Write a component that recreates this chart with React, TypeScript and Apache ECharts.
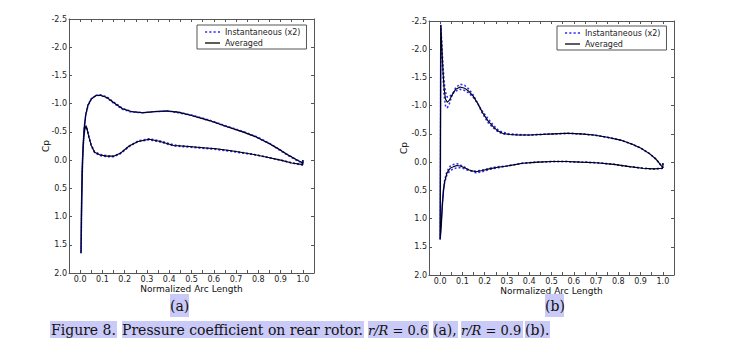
import React, { useEffect, useRef } from "react";
import * as echarts from "echarts";

// ---------- Data (a) r/R = 0.6 ----------
const A_SUC_X = [0.004, 0.006, 0.009, 0.013, 0.018, 0.025, 0.035, 0.05, 0.07, 0.09, 0.12, 0.15, 0.19, 0.23, 0.28, 0.34, 0.39, 0.44, 0.5, 0.58, 0.66, 0.73, 0.79, 0.85, 0.89, 0.93, 0.97, 0.995, 1.0, 1.0];
const A_SUC_AVG = [1.65, 0.9, 0.2, -0.22, -0.55, -0.8, -0.97, -1.08, -1.14, -1.15, -1.11, -1.02, -0.91, -0.86, -0.84, -0.86, -0.87, -0.85, -0.79, -0.7, -0.59, -0.5, -0.41, -0.29, -0.2, -0.1, -0.01, 0.04, 0.07, 0.0];
const A_SUC_I1 = [1.65, 0.9, 0.21, -0.21, -0.54, -0.79, -0.96, -1.08, -1.15, -1.16, -1.12, -1.03, -0.92, -0.86, -0.84, -0.86, -0.87, -0.85, -0.8, -0.71, -0.6, -0.51, -0.42, -0.3, -0.2, -0.1, -0.01, 0.04, 0.07, 0.0];
const A_SUC_I2 = [1.65, 0.9, 0.19, -0.23, -0.56, -0.81, -0.98, -1.09, -1.14, -1.15, -1.1, -1.01, -0.9, -0.85, -0.84, -0.86, -0.87, -0.84, -0.79, -0.7, -0.59, -0.5, -0.41, -0.29, -0.19, -0.09, 0.0, 0.05, 0.08, 0.0];
const A_PRE_X = [0.004, 0.007, 0.011, 0.016, 0.021, 0.027, 0.033, 0.04, 0.05, 0.065, 0.09, 0.12, 0.15, 0.18, 0.22, 0.26, 0.31, 0.36, 0.42, 0.49, 0.55, 0.61, 0.67, 0.72, 0.78, 0.84, 0.9, 0.95, 1.0];
const A_PRE_AVG = [1.65, 0.7, 0.0, -0.4, -0.56, -0.6, -0.52, -0.4, -0.26, -0.14, -0.09, -0.07, -0.07, -0.12, -0.25, -0.33, -0.37, -0.33, -0.26, -0.24, -0.22, -0.2, -0.17, -0.14, -0.1, -0.05, 0.0, 0.05, 0.08];
const A_PRE_I1 = [1.65, 0.7, 0.01, -0.39, -0.55, -0.6, -0.53, -0.41, -0.27, -0.15, -0.1, -0.08, -0.07, -0.12, -0.25, -0.34, -0.38, -0.34, -0.27, -0.24, -0.22, -0.2, -0.17, -0.14, -0.1, -0.05, 0.0, 0.05, 0.09];
const A_PRE_I2 = [1.65, 0.7, -0.01, -0.41, -0.57, -0.61, -0.51, -0.39, -0.25, -0.13, -0.08, -0.06, -0.06, -0.11, -0.24, -0.33, -0.36, -0.32, -0.25, -0.23, -0.21, -0.19, -0.16, -0.13, -0.1, -0.05, 0.0, 0.05, 0.08];

// ---------- Data (b) r/R = 0.9 ----------
const B_SUC_X = [0.0, 0.003, 0.008, 0.013, 0.018, 0.024, 0.032, 0.042, 0.055, 0.07, 0.09, 0.11, 0.13, 0.15, 0.17, 0.19, 0.215, 0.24, 0.26, 0.28, 0.31, 0.35, 0.4, 0.45, 0.51, 0.57, 0.63, 0.69, 0.75, 0.81, 0.86, 0.9, 0.94, 0.97, 0.99, 1.0, 1.0];
const B_SUC_AVG = [1.37, -2.43, -2.0, -1.6, -1.3, -1.12, -1.06, -1.1, -1.2, -1.29, -1.33, -1.31, -1.25, -1.16, -1.03, -0.88, -0.73, -0.62, -0.55, -0.51, -0.49, -0.48, -0.48, -0.49, -0.5, -0.51, -0.5, -0.48, -0.44, -0.39, -0.32, -0.25, -0.15, -0.05, 0.05, 0.1, 0.02];
const B_SUC_I1 = [1.37, -2.45, -1.95, -1.5, -1.18, -1.0, -0.96, -1.04, -1.2, -1.32, -1.38, -1.36, -1.29, -1.18, -1.03, -0.86, -0.7, -0.6, -0.54, -0.5, -0.49, -0.48, -0.48, -0.49, -0.5, -0.51, -0.5, -0.48, -0.44, -0.39, -0.32, -0.25, -0.15, -0.05, 0.05, 0.1, 0.02];
const B_SUC_I2 = [1.37, -2.4, -2.05, -1.7, -1.42, -1.24, -1.15, -1.16, -1.21, -1.26, -1.29, -1.27, -1.22, -1.14, -1.03, -0.9, -0.77, -0.65, -0.57, -0.53, -0.5, -0.49, -0.48, -0.49, -0.5, -0.51, -0.5, -0.48, -0.44, -0.39, -0.32, -0.25, -0.15, -0.05, 0.05, 0.1, 0.02];
const B_PRE_X = [0.0, 0.005, 0.01, 0.015, 0.02, 0.03, 0.045, 0.06, 0.075, 0.09, 0.11, 0.13, 0.16, 0.19, 0.22, 0.26, 0.3, 0.37, 0.44, 0.5, 0.57, 0.63, 0.7, 0.78, 0.85, 0.91, 0.96, 1.0];
const B_PRE_AVG = [1.37, 1.1, 0.75, 0.5, 0.35, 0.2, 0.11, 0.08, 0.06, 0.07, 0.1, 0.14, 0.17, 0.15, 0.12, 0.09, 0.07, 0.02, 0.0, -0.01, -0.01, 0.0, 0.01, 0.04, 0.08, 0.11, 0.12, 0.11];
const B_PRE_I1 = [1.37, 1.1, 0.75, 0.5, 0.33, 0.17, 0.07, 0.04, 0.03, 0.05, 0.09, 0.14, 0.19, 0.17, 0.13, 0.1, 0.07, 0.02, 0.0, -0.01, -0.01, 0.0, 0.01, 0.04, 0.08, 0.11, 0.12, 0.11];
const B_PRE_I2 = [1.37, 1.1, 0.75, 0.5, 0.37, 0.23, 0.15, 0.12, 0.1, 0.1, 0.12, 0.15, 0.16, 0.14, 0.11, 0.08, 0.07, 0.02, 0.0, -0.01, -0.01, 0.0, 0.01, 0.04, 0.08, 0.11, 0.12, 0.11];

const NAME_INST = "Instantaneous (x2)";
const NAME_AVG = "Averaged";
const X_NAME = "Normalized Arc Length";
const Y_NAME = "Cp";

const SANS = "DejaVu Sans";
const SERIF = "DejaVu Serif";
const HL = "#cacaf8";
const FRAME = "#555555";
const INST_COLOR = "#2b2bff";

function loop(preX: number[], preY: number[], sucX: number[], sucY: number[]) {
  const pts: number[][] = [];
  for (let i = preX.length - 1; i >= 0; i--) pts.push([preX[i], preY[i]]);
  for (let i = 0; i < sucX.length; i++) pts.push([sucX[i], sucY[i]]);
  return pts;
}

export default function App() {
  const ref = useRef<HTMLDivElement>(null);
  useEffect(() => {
    document.body.style.margin = "0";
    const chart = echarts.init(ref.current!, null, { renderer: "svg" });

    const xAxisFor = (gridIndex: number, top: boolean) => ({
      type: "value",
      gridIndex,
      position: top ? "top" : "bottom",
      min: -0.05,
      max: 1.05,
      interval: 0.05,
      name: top ? "" : X_NAME,
      nameLocation: "middle",
      nameGap: 11,
      nameMoveOverlap: false,
      nameTextStyle: { fontFamily: SANS, fontSize: 9, lineHeight: 9, color: "#111" },
      axisLine: { show: true, onZero: false, lineStyle: { color: FRAME, width: 1 } },
      axisTick: { show: true, inside: true, length: 3, lineStyle: { color: FRAME } },
      axisLabel: {
        show: !top,
        margin: 2,
        fontFamily: SANS,
        fontSize: 8,
        lineHeight: 8,
        color: "#222",
        formatter: (v: number) => {
          const k = Math.round(v * 20);
          if (k % 2 !== 0 || k < 0 || k > 20) return "";
          return (k / 20).toFixed(1);
        },
      },
      splitLine: { show: false },
    });
    const yAxisFor = (gridIndex: number, right: boolean, gap: number) => ({
      type: "value",
      gridIndex,
      position: right ? "right" : "left",
      inverse: true,
      min: -2.5,
      max: 2.0,
      interval: 0.5,
      name: right ? "" : Y_NAME,
      nameLocation: "middle",
      nameRotate: 90,
      nameGap: gap,
      nameMoveOverlap: false,
      nameTextStyle: { fontFamily: SANS, fontSize: 9, color: "#111" },
      axisLine: { show: true, onZero: false, lineStyle: { color: FRAME, width: 1 } },
      axisTick: { show: true, inside: true, length: 3, lineStyle: { color: FRAME } },
      axisLabel: {
        show: !right,
        margin: 2,
        fontFamily: SANS,
        fontSize: 8,
        color: "#222",
        formatter: (v: number) => v.toFixed(1),
      },
      splitLine: { show: false },
    });

    const instStyle = { color: INST_COLOR, width: 1.5, type: [2, 2] as any };
    const avgStyle = { color: "#000000", width: 1.1 };
    const mk = (name: string, data: number[][], xi: number, yi: number, style: any, z: number) => ({
      type: "line",
      name,
      xAxisIndex: xi,
      yAxisIndex: yi,
      data,
      showSymbol: false,
      symbol: "none",
      lineStyle: style,
      itemStyle: { color: style.color },
      z,
    });

    const DOTS_ICON = "path://M0,0h2v1.6h-2zM4,0h2v1.6h-2zM8,0h2v1.6h-2zM12,0h2v1.6h-2z";
    const LINE_ICON = "path://M0,0h14v1.2h-14z";
    const legendFor = (left: number, top: number) => ({
      left,
      top,
      orient: "vertical",
      selectedMode: false,
      data: [
        { name: NAME_INST, icon: DOTS_ICON, itemStyle: { color: INST_COLOR } },
        { name: NAME_AVG, icon: LINE_ICON, itemStyle: { color: "#000" } },
      ],
      itemWidth: 15,
      itemHeight: 8,
      itemGap: 3,
      padding: [3, 6, 2, 8],
      borderColor: FRAME,
      borderWidth: 1,
      backgroundColor: "#fff",
      textStyle: { fontFamily: SANS, fontSize: 8, color: "#222" },
    });

    const capText = (x: number, y: number, text: string, size: number) => ({
      type: "text",
      x,
      y,
      z: 20,
      style: {
        text,
        fontFamily: SERIF,
        fontSize: size,
        fill: "#111",
        textVerticalAlign: "middle",
        rich: {
          i: { fontStyle: "italic", fontFamily: SERIF, fontSize: size, fill: "#111" },
        },
      },
    });
    const capRect = (x: number, y: number, w: number, h: number) => ({
      type: "rect",
      z: 10,
      shape: { x, y, width: w, height: h },
      style: { fill: HL },
    });

    chart.setOption({
      animation: false,
      backgroundColor: "#ffffff",
      grid: [
        { left: 69, top: 19, width: 245, height: 254, containLabel: false },
        { left: 429, top: 21, width: 245, height: 254, containLabel: false },
      ],
      xAxis: [xAxisFor(0, false), xAxisFor(0, true), xAxisFor(1, false), xAxisFor(1, true)],
      yAxis: [yAxisFor(0, false, 19), yAxisFor(0, true, 19), yAxisFor(1, false, 21), yAxisFor(1, true, 21)],
      legend: [legendFor(197, 25), legendFor(557, 26)],
      series: [
        mk(NAME_INST, loop(A_PRE_X, A_PRE_I1, A_SUC_X, A_SUC_I1), 0, 0, instStyle, 2),
        mk(NAME_INST, loop(A_PRE_X, A_PRE_I2, A_SUC_X, A_SUC_I2), 0, 0, instStyle, 2),
        mk(NAME_AVG, loop(A_PRE_X, A_PRE_AVG, A_SUC_X, A_SUC_AVG), 0, 0, avgStyle, 3),
        mk(NAME_INST, loop(B_PRE_X, B_PRE_I1, B_SUC_X, B_SUC_I1), 2, 2, instStyle, 2),
        mk(NAME_INST, loop(B_PRE_X, B_PRE_I2, B_SUC_X, B_SUC_I2), 2, 2, instStyle, 2),
        mk(NAME_AVG, loop(B_PRE_X, B_PRE_AVG, B_SUC_X, B_SUC_AVG), 2, 2, avgStyle, 3),
      ],
      graphic: [
        capRect(170, 294, 19, 23),
        capText(170, 306, "(a)", 14),
        capRect(545, 294, 19, 23),
        capText(545, 306, "(b)", 14),
        capRect(50, 321, 67, 17),
        capText(51, 330, "Figure 8.", 14),
        capRect(122, 321, 242, 17),
        capText(122, 330, "Pressure coefficient on rear rotor.", 14),
        capRect(368, 321, 61, 17),
        capText(368, 330, "{i|r/R} = 0.6", 13),
        capRect(433, 321, 25, 17),
        capText(433, 330, "(a),", 14),
        capRect(461, 321, 62, 17),
        capText(461, 330, "{i|r/R} = 0.9", 13),
        capRect(525, 321, 25, 17),
        capText(525, 330, "(b).", 14),
      ],
    });
    return () => chart.dispose();
  }, []);
  return <div ref={ref} style={{ position: "fixed", left: 0, top: 0, width: 731, height: 358 }} />;
}
